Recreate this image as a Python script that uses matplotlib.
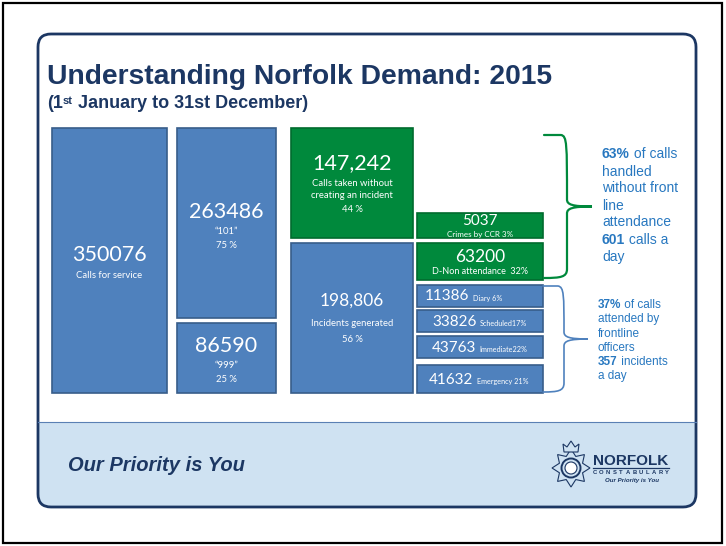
"""
Norfolk demand 2015 slide, redrawn with plain matplotlib patches and text.
Axes run in pixel units (0..726 x 0..546, y downward).
"""

import numpy as np
import matplotlib.pyplot as plt
from matplotlib.patches import FancyBboxPatch, Rectangle, PathPatch, Polygon, Circle
from matplotlib.path import Path

# ---- data ----
TITLE      = "Understanding Norfolk Demand: 2015"
SUB_PARTS  = ["(1", "st", " January to 31st December)"]
FOOTER     = "Our Priority is You"

BIG_VALUES = ["350076", "263486", "86590", "147,242", "198,806"]
BIG_LINES  = [["Calls for service"],
              ["\u201c101\u201d", "75 %"],
              ["\u201c999\u201d", "25 %"],
              ["Calls taken without", "creating an incident", "44 %"],
              ["Incidents generated", "56 %"]]
BIG_KIND   = ["blue", "blue", "blue", "green", "blue"]

NONATT_VALUES = ["5037", "63200"]
NONATT_LABELS = ["Crimes by CCR 3%", "D-Non attendance  32%"]

ATT_VALUES = ["11386", "33826", "43763", "41632"]
ATT_LABELS = ["Diary 6%", "Scheduled17%", "Immediate22%", "Emergency 21%"]

# (bold part, regular part)
GREEN_NOTE = [("63%", " of calls"), ("", "handled"), ("", "without front"), ("", "line"),
              ("", "attendance"), ("601", " calls a"), ("", "day")]
BLUE_NOTE  = [("37%", " of calls"), ("", "attended by"), ("", "frontline"), ("", "officers"),
              ("357", " incidents"), ("", "a day")]

# ---- layout (pixels) ----
BIG_BOX    = [(52, 128, 115, 265), (177, 128, 99, 190), (177, 323, 99, 70),
              (291, 128, 122, 110), (291, 243, 122, 150)]
BIG_NUM_Y  = [255, 212, 346, 163, 301]
BIG_NUM_FS = [15.5, 15.5, 15.5, 15.5, 12.5]
BIG_LINE_Y = [[275], [231, 246], [366, 379], [183, 196, 209], [324, 339]]

NONATT_BOX    = [(417, 213, 126, 25), (417, 243, 126, 37)]
NONATT_NUM_Y  = [221, 257]
NONATT_NUM_FS = [11, 12.5]
NONATT_LAB_Y  = [234.5, 272]
NONATT_LAB_FS = [5.8, 6.5]

ATT_BOX   = [(417, 285, 126, 22), (417, 310, 126, 22), (417, 336, 126, 22), (417, 365, 126, 28)]
ATT_NUM_X = [425, 432, 432, 429]
ATT_NUM_Y = [296.5, 321.5, 348, 379.5]

# ---- colours ----
NAVY       = "#1c3763"
BLUE_FILL  = "#4f81bd"
BLUE_EDGE  = "#385d8a"
GREEN_FILL = "#00893c"
GREEN_EDGE = "#006b2e"
NOTE_COL   = "#2878c0"
FOOT_BG    = "#cfe2f2"

BOX_FONT = ["Lato", "DejaVu Sans"]
SANS     = ["Liberation Sans", "DejaVu Sans"]

fig = plt.figure(figsize=(7.26, 5.46), dpi=100)
ax = fig.add_axes([0, 0, 1, 1])
ax.set_xlim(0, 726)
ax.set_ylim(546, 0)
ax.axis("off")

# outer frame
ax.add_patch(Rectangle((3, 3), 719, 540, fill=False, ec="black", lw=1.6))

# slide panel with footer band clipped to its rounded shape
panel = FancyBboxPatch((38, 34), 658, 473, boxstyle="round,pad=0,rounding_size=13",
                       fc="white", ec="none")
ax.add_patch(panel)
foot = Rectangle((30, 422), 680, 100, fc=FOOT_BG, ec="none")
ax.add_patch(foot)
foot.set_clip_path(panel)
ax.plot([38, 696], [422, 422], color="#5a80b4", lw=0.8)
ax.add_patch(FancyBboxPatch((38, 34), 658, 473, boxstyle="round,pad=0,rounding_size=13",
                            fill=False, ec=NAVY, lw=2.0))

# title block
ax.text(47, 84, TITLE, fontsize=20.3, fontweight="bold", color=NAVY, family=SANS, va="baseline")
t1 = ax.text(47, 107.5, SUB_PARTS[0], fontsize=13, fontweight="bold", color=NAVY,
             family=SANS, va="baseline")
t2 = ax.annotate(SUB_PARTS[1], xy=(1, 0.9), xycoords=t1, fontsize=8, fontweight="bold",
                 color=NAVY, family=SANS, va="top", ha="left")
ax.annotate(SUB_PARTS[2], xy=(1, 0), xycoords=(t2, t1), fontsize=13, fontweight="bold",
            color=NAVY, family=SANS, va="bottom", ha="left")


def box(x, y, w, h, kind):
    fc, ec = (BLUE_FILL, BLUE_EDGE) if kind == "blue" else (GREEN_FILL, GREEN_EDGE)
    ax.add_patch(Rectangle((x, y), w, h, fc=fc, ec=ec, lw=1.2))


# big boxes
for (x, y, w, h), kind, val, lines, ny, nfs, ly in zip(BIG_BOX, BIG_KIND, BIG_VALUES, BIG_LINES,
                                                      BIG_NUM_Y, BIG_NUM_FS, BIG_LINE_Y):
    box(x, y, w, h, kind)
    cx = x + w / 2
    ax.text(cx, ny, val, fontsize=nfs, color="white", family=BOX_FONT, ha="center", va="center")
    for txt, yy in zip(lines, ly):
        ax.text(cx, yy, txt, fontsize=6.8, color="white", family=BOX_FONT, ha="center", va="center")

# non-attendance boxes
for (x, y, w, h), val, lab, ny, nfs, ly, lfs in zip(NONATT_BOX, NONATT_VALUES, NONATT_LABELS,
                                                    NONATT_NUM_Y, NONATT_NUM_FS,
                                                    NONATT_LAB_Y, NONATT_LAB_FS):
    box(x, y, w, h, "green")
    cx = x + w / 2
    ax.text(cx, ny, val, fontsize=nfs, color="white", family=BOX_FONT, ha="center", va="center")
    ax.text(cx, ly, lab, fontsize=lfs, color="white", family=BOX_FONT, ha="center", va="center")

# attended boxes
for (x, y, w, h), val, lab, nx, ny in zip(ATT_BOX, ATT_VALUES, ATT_LABELS, ATT_NUM_X, ATT_NUM_Y):
    box(x, y, w, h, "blue")
    num = ax.text(nx, ny, val, fontsize=11, color="white", family=BOX_FONT, ha="left", va="center")
    ax.annotate(lab, xy=(1, 0), xycoords=num, xytext=(2.5, 1.2), textcoords="offset points",
                fontsize=5.2, color="white", family=BOX_FONT, ha="left", va="bottom")


def brace(x0, top, bot, spine, tip, color, lw):
    mid = (top + bot) / 2
    verts = [(x0, top), (spine - 6, top), (spine, top + 1), (spine, top + 9),
             (spine, mid - 7),
             (spine, mid - 2), (spine + 5, mid), (tip, mid),
             (spine + 5, mid), (spine, mid + 2), (spine, mid + 7),
             (spine, bot - 9),
             (spine, bot - 1), (spine - 6, bot), (x0, bot)]
    codes = [Path.MOVETO, Path.LINETO, Path.CURVE4, Path.CURVE4, Path.LINETO,
             Path.CURVE4, Path.CURVE4, Path.CURVE4, Path.CURVE4, Path.CURVE4, Path.CURVE4,
             Path.LINETO, Path.CURVE4, Path.CURVE4, Path.CURVE4]
    ax.add_patch(PathPatch(Path(verts, codes), fill=False, ec=color, lw=lw, capstyle="round"))


brace(544, 135, 278, 567, 592, GREEN_FILL, 1.6)
brace(543, 286, 392, 564, 588, BLUE_FILL, 1.2)


def note(lines, x, y0, step, fs):
    for i, (b, r) in enumerate(lines):
        y = y0 + i * step
        if b:
            bt = ax.text(x, y, b, fontsize=fs, fontweight="bold", color=NOTE_COL,
                         family=SANS, ha="left", va="center")
            ax.annotate(r, xy=(1, 0.5), xycoords=bt, fontsize=fs, color=NOTE_COL,
                        family=SANS, ha="left", va="center")
        else:
            ax.text(x, y, r, fontsize=fs, color=NOTE_COL, family=SANS, ha="left", va="center")


note(GREEN_NOTE, 602, 154.5, 17, 10)
note(BLUE_NOTE, 598, 305, 14.3, 8.5)

# footer
ax.text(68, 471, FOOTER, fontsize=14.5, fontweight="bold", fontstyle="italic", color=NAVY,
        family=SANS, va="baseline")

# crest (simplified)
cx, cy = 571, 468
ang = np.pi / 2 + np.arange(16) * np.pi / 8
rad = np.where(np.arange(16) % 2 == 0, 19, 12.5)
ax.add_patch(Polygon(np.c_[cx + rad * np.cos(ang), cy - rad * np.sin(ang)], closed=True,
                     fc=FOOT_BG, ec=NAVY, lw=0.8))
ax.add_patch(Circle((cx, cy), 9.5, fc=FOOT_BG, ec=NAVY, lw=1.4))
ax.add_patch(Circle((cx, cy), 6, fc="white", ec=NAVY, lw=0.8))
ax.add_patch(Polygon([(cx - 7, 452), (cx + 7, 452), (cx + 8, 444), (cx + 4, 447), (cx, 441),
                      (cx - 4, 447), (cx - 8, 444)], closed=True, fc=FOOT_BG, ec=NAVY, lw=0.8))

ax.text(593, 465, "NORFOLK", fontsize=11, fontweight="bold", color=NAVY, family=SANS,
        va="baseline")
ax.plot([593, 669], [467.5, 467.5], color=NAVY, lw=0.9)
for ch, xx in zip("CONSTABULARY", np.linspace(595, 667, 12)):
    ax.text(xx, 472.5, ch, fontsize=4.2, fontweight="bold", color=NAVY, family=SANS,
            ha="center", va="center")
ax.text(632, 480.5, "Our Priority is You", fontsize=4.4, fontweight="bold", fontstyle="italic",
        color=NAVY, family=SANS, ha="center", va="center")

fig.savefig("out.png", dpi=100)
